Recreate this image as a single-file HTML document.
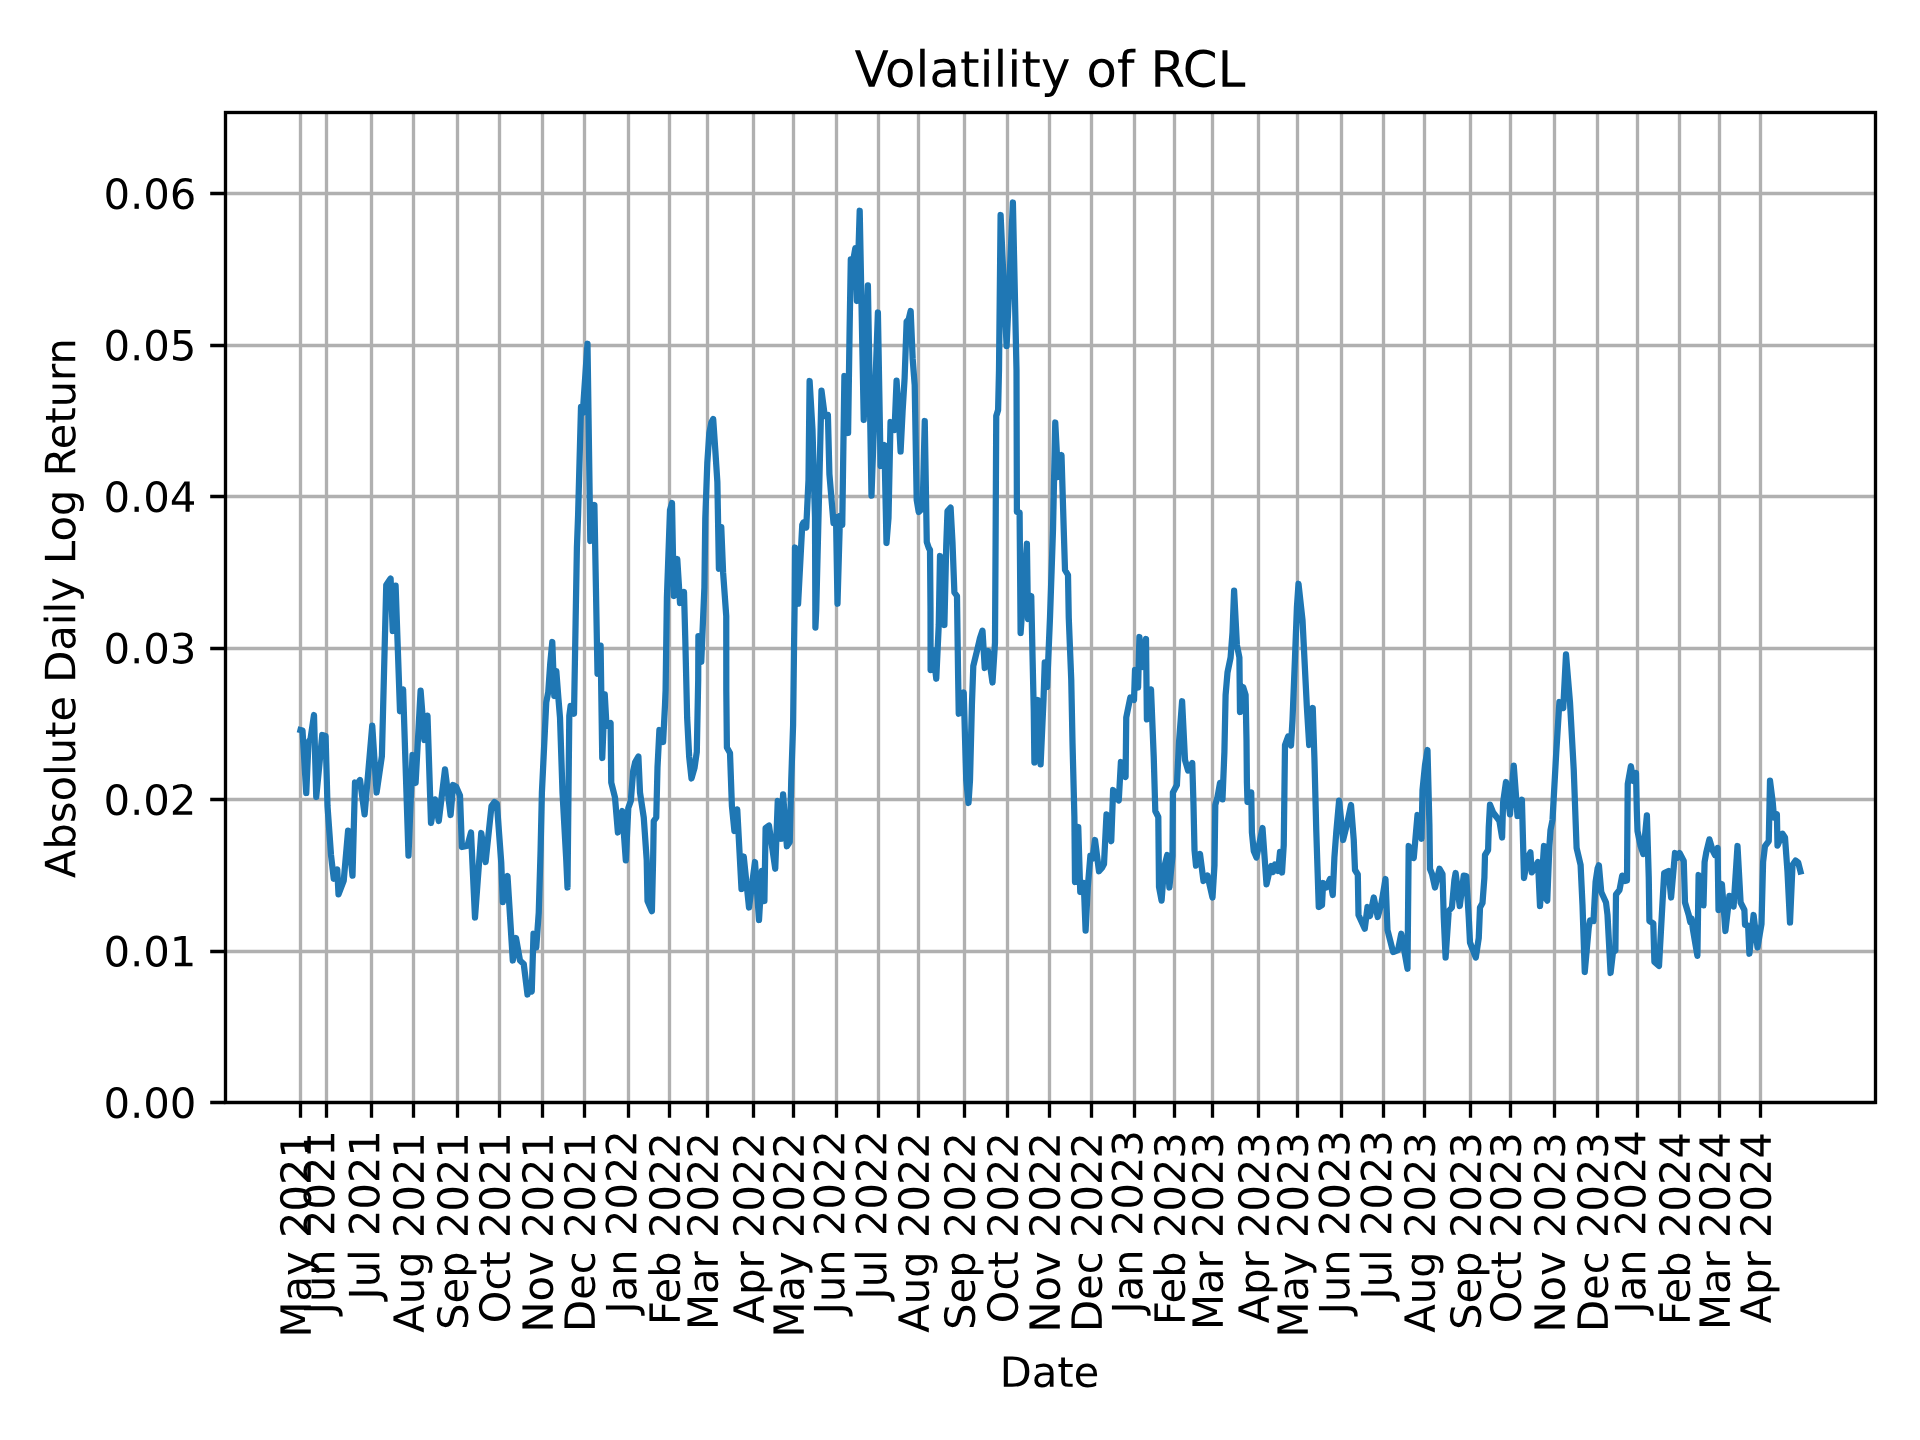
<!DOCTYPE html>
<html><head><meta charset="utf-8"><title>Volatility of RCL</title>
<style>html,body{margin:0;padding:0;background:#fff;font-family:"Liberation Sans",sans-serif}svg{display:block}</style></head><body>
<svg width="1920" height="1440" viewBox="0 0 1920 1440">
<rect x="0" y="0" width="1920" height="1440" fill="#ffffff"/>
<g stroke="#b0b0b0" stroke-width="3.33" fill="none" stroke-linecap="butt">
<path d="M300.5 112.5V1102.5M326.5 112.5V1102.5M371.5 112.5V1102.5M413.5 112.5V1102.5M457.5 112.5V1102.5M499.5 112.5V1102.5M542.5 112.5V1102.5M584.5 112.5V1102.5M628.5 112.5V1102.5M669.5 112.5V1102.5M707.5 112.5V1102.5M753.5 112.5V1102.5M793.5 112.5V1102.5M836.5 112.5V1102.5M878.5 112.5V1102.5M918.5 112.5V1102.5M964.5 112.5V1102.5M1007.5 112.5V1102.5M1049.5 112.5V1102.5M1091.5 112.5V1102.5M1134.5 112.5V1102.5M1174.5 112.5V1102.5M1212.5 112.5V1102.5M1258.5 112.5V1102.5M1297.5 112.5V1102.5M1341.5 112.5V1102.5M1383.5 112.5V1102.5M1424.5 112.5V1102.5M1470.5 112.5V1102.5M1510.5 112.5V1102.5M1554.5 112.5V1102.5M1597.5 112.5V1102.5M1637.5 112.5V1102.5M1679.5 112.5V1102.5M1719.5 112.5V1102.5M1760.5 112.5V1102.5M225.5 1102.5H1875.5M225.5 951.5H1875.5M225.5 799.5H1875.5M225.5 648.5H1875.5M225.5 496.5H1875.5M225.5 345.5H1875.5M225.5 193.5H1875.5"/>
</g>
<clipPath id="c"><rect x="225.5" y="112.5" width="1650" height="990"/></clipPath>
<path clip-path="url(#c)" d="M300.5 730 L302.5 730.5 L306.25 793 L308.5 742 L310.5 739 L314 715 L316.25 797 L322.25 735 L325.6 736 L327.5 806 L331 855 L333.75 878.75 L337.25 869.4 L338.5 894.4 L343.75 880.6 L348.1 830.6 L352.5 875.6 L355 782.5 L357.5 784 L360 780 L364.6 814.4 L372.25 725.6 L376.6 792.5 L381.9 756 L386.25 585 L390.6 578.5 L392.75 631 L395.6 585.6 L400 711.25 L403.1 689.4 L408.5 855.6 L412.5 755 L415.6 783 L420.6 690.6 L424.4 740 L427.5 715.6 L431 823 L435 799.4 L438.75 821 L445 769.4 L450.6 815 L453.1 785 L456.25 787 L460 795.6 L461.9 847 L467.5 845.6 L471 832.5 L475 917.5 L481.25 833 L485.6 862 L491.5 806 L494.4 802 L496.9 804 L501.25 862.5 L502.8 902.2 L507.5 876 L512.8 960.5 L516 938 L520 960.5 L523.75 964 L527.5 994.5 L529.5 986 L531.75 991.5 L533.5 933.75 L536.25 947.5 L538.75 912.5 L540.6 850 L541.9 792.5 L546.25 702.5 L548.26 692 L550.27 663 L552.28 642 L554.29 696 L556.3 671 L558.3 697 L560 717.5 L562.5 792.5 L566.25 860 L567.5 887.5 L569.3 716 L570.6 706 L574 713.75 L575.6 622.5 L576.9 547.5 L578.1 515 L581 407 L582.75 413 L587.5 343.75 L590.3 541 L594.4 505 L597.5 673.75 L600.6 645.6 L602.25 758 L604.75 694.4 L606.5 726 L610.6 723 L611.25 782.5 L615 797.5 L617.9 832.5 L622.25 811 L625.8 860.4 L628.3 808 L630.8 801 L633.2 771 L635.2 762 L638.4 756.5 L640 792.5 L643.75 817.5 L646.7 860 L647.5 901 L651.9 911.25 L653.1 860 L653.75 821 L656.25 817.5 L657.5 767.5 L659.4 730 L660.6 730.6 L663.1 742 L665 705 L665.6 690 L666.9 597.5 L670 510 L672 503 L673.75 596 L677.25 559 L680 603 L684 592 L685.3 640 L687.17 718 L689.19 757 L691.5 778.5 L694.5 768 L696.8 752 L698.2 680 L698.4 636 L701.25 662 L704.4 587.5 L705.3 518 L707.3 463 L709.32 433 L711.33 422.5 L713.2 419.1 L715.36 451 L717.37 482 L718.9 568.75 L721.25 527 L723.1 572.5 L726.25 616 L726.3 690 L726.9 747.5 L730 753 L731.9 806 L734.4 831 L737.25 809.4 L741.5 889 L743.75 856.5 L749 907.5 L755 862 L759 920 L761.9 871 L764.4 901 L765.6 828 L769 825.6 L775.25 868.75 L777.75 801 L781.25 838.75 L783.1 794.4 L786.9 846.25 L789.75 842 L791.25 780 L793.1 725 L794 650 L794.6 606 L795 547.5 L798.1 603.75 L802.25 525 L803.5 522.5 L806.25 527.5 L808.5 480 L809.6 381 L812.5 430 L815 517.5 L815.4 627.5 L816.25 610 L819.4 480 L821.5 390.6 L824.75 416 L827.9 415 L829.4 474 L833.5 523 L836 517 L837.5 603.75 L840 516 L842.25 525 L844.4 376 L848.1 433 L849.6 330 L850.8 259.5 L852.6 264 L855.3 248.25 L856.9 301 L859.7 210.75 L863.75 420 L867.9 285.3 L871.5 495.6 L877.9 312.5 L880.6 466 L884.4 445 L886.49 543 L888.5 518 L890.52 422 L892.54 428 L894.55 430 L896.57 380.6 L898.58 412 L900.59 451.5 L902.61 411 L904.62 378 L906.64 321.4 L908.65 319.5 L910.66 311 L912.68 359 L914.69 385 L916.7 500 L918.7 512 L920.7 510 L922.7 506 L924.75 421 L926.77 542 L928.78 548 L930 550 L930.5 610 L930.6 670 L933.1 650 L936.25 678.75 L938.75 625 L940 556 L944.4 625 L946.25 545 L947.5 511 L950.6 507.5 L952.5 542.5 L954.4 592.5 L957 596 L958.1 675 L958.75 713.75 L963.75 692.5 L965 737.5 L966.25 780 L968.5 803 L970 780 L971.9 705 L973.3 666 L977.5 648.75 L980 638 L982.5 630.6 L984.75 668 L988.1 651 L992.5 682.5 L995 642.5 L995.6 540 L996.25 416 L998.1 410 L999 370 L1000.6 215 L1006.6 346 L1012.9 202.5 L1016.5 370 L1016.9 512 L1019.6 512.5 L1020.6 633 L1026.9 543.75 L1028 619 L1031.25 596 L1032.5 655 L1033.75 710 L1034.4 762.5 L1037.75 700 L1040.6 764.4 L1043.5 700 L1044.75 662.5 L1047.1 687 L1050 617.5 L1053 530 L1055.25 422.5 L1058.1 477 L1061.5 455 L1063.75 530 L1065 570 L1068 575 L1068.75 617.5 L1071.25 680 L1072.5 742.5 L1074.4 817.5 L1075 882 L1078.25 827 L1080.25 892 L1083.75 883 L1085.6 930.6 L1087.75 887.5 L1090.4 855.6 L1092.5 858.75 L1095 840 L1099 871.25 L1101.9 868 L1104 864 L1106.5 814.4 L1111.25 841.25 L1113.1 790 L1118.75 800.6 L1120.9 762 L1125.6 777 L1126.25 717.5 L1130.3 697.5 L1134 700 L1135 670 L1138.1 687.5 L1139.4 637 L1142.75 667 L1146 639 L1146.9 719.4 L1151 689.4 L1153.75 757.5 L1155.3 811 L1158.3 817 L1159 887 L1161.6 900.6 L1164 868 L1167.25 855 L1169.4 887.5 L1172.5 856 L1172.9 792.5 L1176.9 785 L1179 742.5 L1182.1 701.25 L1185 760 L1188.1 770.6 L1192.25 763 L1193.5 805 L1194.5 850 L1196 865.6 L1200 854 L1203.5 881 L1207.5 875.6 L1212.5 897.5 L1214.5 865 L1215.3 805 L1217.5 797 L1220 783 L1222.5 799.4 L1224.4 752 L1225.6 695 L1227.5 672.5 L1230.6 657.5 L1232.5 632.5 L1234.1 590.6 L1236.9 645 L1239.4 657.5 L1240 712 L1243.1 687 L1245.6 695 L1246.5 740 L1246.9 782.5 L1247.5 802 L1251.25 792.5 L1251.9 832.5 L1253.75 851 L1256.5 857.5 L1262.5 828 L1266.5 884.4 L1270 868.75 L1271.25 866 L1273 872 L1275 864.4 L1278.1 871 L1280 852 L1282 872.5 L1283.75 845 L1285 745 L1288.1 736.5 L1291 745.5 L1292.5 720 L1295 657.5 L1296.9 607.5 L1298.5 583.75 L1302.5 620 L1305 670 L1306.9 707.5 L1309.2 745 L1312.75 708 L1314.4 757.5 L1316.25 830 L1318.75 907 L1322 905 L1323.1 883 L1326.25 887.5 L1330 879 L1332.75 895 L1334.4 857.5 L1336.25 832.5 L1339.1 800.6 L1343.1 840 L1347.5 822 L1351 805 L1353.75 840 L1355 870 L1357.8 874.5 L1358.5 915 L1364.75 928.75 L1367.5 907 L1370 916 L1373.75 897.5 L1377.75 917 L1381.5 903 L1385.5 879 L1387.5 930 L1389.4 937.5 L1393.1 952 L1398 950 L1401.25 933.75 L1407.5 968.75 L1408.7 846 L1413.75 858 L1417.5 815 L1421.5 838.75 L1422.5 790 L1425 765 L1427.5 750 L1429.4 825 L1430 869 L1432 874 L1435 887.5 L1439.5 868.75 L1442.5 874 L1443.75 917.5 L1445.6 957.5 L1448.75 911 L1451.9 907.5 L1454.4 880 L1455.6 873 L1459.75 906 L1463.75 875.6 L1466.25 876 L1468.75 917.5 L1470 942.5 L1475.8 957.5 L1478.75 938 L1480 907.5 L1482.5 903 L1484.4 877.5 L1485 855 L1488.1 850 L1488.75 827.5 L1490 804.7 L1493.1 812.5 L1496.9 817.5 L1499.4 821 L1502.1 837.5 L1503.1 802.5 L1506 782 L1510 814.4 L1513.75 765.6 L1517.5 816 L1521.9 799.7 L1524 878 L1527.5 858 L1530.4 852.3 L1531.75 872.3 L1535 868 L1538 862 L1540 906 L1544 846 L1545.5 898 L1547.25 900.6 L1549.4 846 L1550.5 830 L1552.5 820 L1556.25 752.5 L1559.4 702 L1563.25 708 L1566 654.4 L1570 702.5 L1573.75 770 L1576.6 848 L1580.6 865 L1582.5 905 L1584.75 972 L1588.75 927.5 L1590 920.5 L1593.5 921 L1595.6 881.7 L1597.6 868.5 L1598.9 865.3 L1601.25 892 L1606 902.5 L1607.5 915 L1610.6 973 L1613 952 L1615.4 950.5 L1616 894.5 L1619.5 890 L1622.2 875.6 L1625 881 L1627 880.5 L1627.6 800 L1627.75 784 L1630.9 766.25 L1633.4 781 L1636 773 L1636.8 810 L1637.5 831 L1640.6 846 L1643.3 854 L1646.9 815.3 L1648.75 877.5 L1649.4 921 L1653.3 923.4 L1654.4 962 L1659 966 L1662.5 902.5 L1664.2 873 L1668.5 871 L1671.1 897.5 L1675 853 L1677.3 858 L1679.6 853 L1683.75 861 L1685 902.5 L1688.75 915 L1690.25 922 L1691.5 918.5 L1693 930 L1697.4 955.8 L1698.6 875 L1703.5 905.3 L1704.6 862 L1706.25 852.5 L1709.4 839.4 L1712.5 850 L1715 855 L1717.6 848 L1718.5 910 L1721.9 884 L1725.4 931 L1729.4 895.8 L1733.6 906.5 L1737.5 846 L1740.6 902.5 L1744.4 910 L1745 925 L1748.1 925.6 L1749.4 953.75 L1753.6 915 L1757.5 947.5 L1761.5 924 L1763.1 862 L1765 846 L1768.75 841 L1770 780.6 L1772.75 802.5 L1774 817.5 L1776.9 814.4 L1777.5 845.6 L1782.5 833.75 L1785 837.5 L1787.5 872 L1790 922.5 L1792.5 865 L1795.6 860.6 L1798.2 862.5 L1800.5 871.5" fill="none" stroke="#1f77b4" stroke-width="6.25" stroke-linejoin="round" stroke-linecap="square"/>
<path d="M300.5 1102.5v15.3M326.5 1102.5v15.3M371.5 1102.5v15.3M413.5 1102.5v15.3M457.5 1102.5v15.3M499.5 1102.5v15.3M542.5 1102.5v15.3M584.5 1102.5v15.3M628.5 1102.5v15.3M669.5 1102.5v15.3M707.5 1102.5v15.3M753.5 1102.5v15.3M793.5 1102.5v15.3M836.5 1102.5v15.3M878.5 1102.5v15.3M918.5 1102.5v15.3M964.5 1102.5v15.3M1007.5 1102.5v15.3M1049.5 1102.5v15.3M1091.5 1102.5v15.3M1134.5 1102.5v15.3M1174.5 1102.5v15.3M1212.5 1102.5v15.3M1258.5 1102.5v15.3M1297.5 1102.5v15.3M1341.5 1102.5v15.3M1383.5 1102.5v15.3M1424.5 1102.5v15.3M1470.5 1102.5v15.3M1510.5 1102.5v15.3M1554.5 1102.5v15.3M1597.5 1102.5v15.3M1637.5 1102.5v15.3M1679.5 1102.5v15.3M1719.5 1102.5v15.3M1760.5 1102.5v15.3M225.5 1102.5h-15.3M225.5 951.5h-15.3M225.5 799.5h-15.3M225.5 648.5h-15.3M225.5 496.5h-15.3M225.5 345.5h-15.3M225.5 193.5h-15.3" stroke="#000" stroke-width="3.33" fill="none"/>
<rect x="225.5" y="112.5" width="1650" height="990" fill="none" stroke="#000" stroke-width="3.33" stroke-linejoin="miter"/>
<g transform="scale(4.166667)" fill="#000">
<g transform="translate(-0.2880 -0.0720)"><g id="text_1">
      <g transform="translate(74.879375 321.071125) rotate(-90) scale(0.1 -0.1)">
       <defs>
        <path id="DejaVuSans-4d" d="M 628 4666 
L 1569 4666 
L 2759 1491 
L 3956 4666 
L 4897 4666 
L 4897 0 
L 4281 0 
L 4281 4097 
L 3078 897 
L 2444 897 
L 1241 4097 
L 1241 0 
L 628 0 
L 628 4666 
z
" transform="scale(0.015625)"/>
        <path id="DejaVuSans-61" d="M 2194 1759 
Q 1497 1759 1228 1600 
Q 959 1441 959 1056 
Q 959 750 1161 570 
Q 1363 391 1709 391 
Q 2188 391 2477 730 
Q 2766 1069 2766 1631 
L 2766 1759 
L 2194 1759 
z
M 3341 1997 
L 3341 0 
L 2766 0 
L 2766 531 
Q 2569 213 2275 61 
Q 1981 -91 1556 -91 
Q 1019 -91 701 211 
Q 384 513 384 1019 
Q 384 1609 779 1909 
Q 1175 2209 1959 2209 
L 2766 2209 
L 2766 2266 
Q 2766 2663 2505 2880 
Q 2244 3097 1772 3097 
Q 1472 3097 1187 3025 
Q 903 2953 641 2809 
L 641 3341 
Q 956 3463 1253 3523 
Q 1550 3584 1831 3584 
Q 2591 3584 2966 3190 
Q 3341 2797 3341 1997 
z
" transform="scale(0.015625)"/>
        <path id="DejaVuSans-79" d="M 2059 -325 
Q 1816 -950 1584 -1140 
Q 1353 -1331 966 -1331 
L 506 -1331 
L 506 -850 
L 844 -850 
Q 1081 -850 1212 -737 
Q 1344 -625 1503 -206 
L 1606 56 
L 191 3500 
L 800 3500 
L 1894 763 
L 2988 3500 
L 3597 3500 
L 2059 -325 
z
" transform="scale(0.015625)"/>
        <path id="DejaVuSans-20" transform="scale(0.015625)"/>
        <path id="DejaVuSans-32" d="M 1228 531 
L 3431 531 
L 3431 0 
L 469 0 
L 469 531 
Q 828 903 1448 1529 
Q 2069 2156 2228 2338 
Q 2531 2678 2651 2914 
Q 2772 3150 2772 3378 
Q 2772 3750 2511 3984 
Q 2250 4219 1831 4219 
Q 1534 4219 1204 4116 
Q 875 4013 500 3803 
L 500 4441 
Q 881 4594 1212 4672 
Q 1544 4750 1819 4750 
Q 2544 4750 2975 4387 
Q 3406 4025 3406 3419 
Q 3406 3131 3298 2873 
Q 3191 2616 2906 2266 
Q 2828 2175 2409 1742 
Q 1991 1309 1228 531 
z
" transform="scale(0.015625)"/>
        <path id="DejaVuSans-30" d="M 2034 4250 
Q 1547 4250 1301 3770 
Q 1056 3291 1056 2328 
Q 1056 1369 1301 889 
Q 1547 409 2034 409 
Q 2525 409 2770 889 
Q 3016 1369 3016 2328 
Q 3016 3291 2770 3770 
Q 2525 4250 2034 4250 
z
M 2034 4750 
Q 2819 4750 3233 4129 
Q 3647 3509 3647 2328 
Q 3647 1150 3233 529 
Q 2819 -91 2034 -91 
Q 1250 -91 836 529 
Q 422 1150 422 2328 
Q 422 3509 836 4129 
Q 1250 4750 2034 4750 
z
" transform="scale(0.015625)"/>
        <path id="DejaVuSans-31" d="M 794 531 
L 1825 531 
L 1825 4091 
L 703 3866 
L 703 4441 
L 1819 4666 
L 2450 4666 
L 2450 531 
L 3481 531 
L 3481 0 
L 794 0 
L 794 531 
z
" transform="scale(0.015625)"/>
       </defs>
       <use href="#DejaVuSans-4d"/>
       <use href="#DejaVuSans-61" transform="translate(86.279297 0)"/>
       <use href="#DejaVuSans-79" transform="translate(147.558594 0)"/>
       <use href="#DejaVuSans-20" transform="translate(206.738281 0)"/>
       <use href="#DejaVuSans-32" transform="translate(238.525391 0)"/>
       <use href="#DejaVuSans-30" transform="translate(302.148438 0)"/>
       <use href="#DejaVuSans-32" transform="translate(365.771484 0)"/>
       <use href="#DejaVuSans-31" transform="translate(429.394531 0)"/>
      </g>
     </g></g>
<g transform="translate(-0.8880 -0.5520)"><g id="text_2">
      <g transform="translate(81.119375 316.021125) rotate(-90) scale(0.1 -0.1)">
       <defs>
        <path id="DejaVuSans-4a" d="M 628 4666 
L 1259 4666 
L 1259 325 
Q 1259 -519 939 -900 
Q 619 -1281 -91 -1281 
L -331 -1281 
L -331 -750 
L -134 -750 
Q 284 -750 456 -515 
Q 628 -281 628 325 
L 628 4666 
z
" transform="scale(0.015625)"/>
        <path id="DejaVuSans-75" d="M 544 1381 
L 544 3500 
L 1119 3500 
L 1119 1403 
Q 1119 906 1312 657 
Q 1506 409 1894 409 
Q 2359 409 2629 706 
Q 2900 1003 2900 1516 
L 2900 3500 
L 3475 3500 
L 3475 0 
L 2900 0 
L 2900 538 
Q 2691 219 2414 64 
Q 2138 -91 1772 -91 
Q 1169 -91 856 284 
Q 544 659 544 1381 
z
M 1991 3584 
L 1991 3584 
z
" transform="scale(0.015625)"/>
        <path id="DejaVuSans-6e" d="M 3513 2113 
L 3513 0 
L 2938 0 
L 2938 2094 
Q 2938 2591 2744 2837 
Q 2550 3084 2163 3084 
Q 1697 3084 1428 2787 
Q 1159 2491 1159 1978 
L 1159 0 
L 581 0 
L 581 3500 
L 1159 3500 
L 1159 2956 
Q 1366 3272 1645 3428 
Q 1925 3584 2291 3584 
Q 2894 3584 3203 3211 
Q 3513 2838 3513 2113 
z
" transform="scale(0.015625)"/>
       </defs>
       <use href="#DejaVuSans-4a"/>
       <use href="#DejaVuSans-75" transform="translate(29.492188 0)"/>
       <use href="#DejaVuSans-6e" transform="translate(92.871094 0)"/>
       <use href="#DejaVuSans-20" transform="translate(156.25 0)"/>
       <use href="#DejaVuSans-32" transform="translate(188.037109 0)"/>
       <use href="#DejaVuSans-30" transform="translate(251.660156 0)"/>
       <use href="#DejaVuSans-32" transform="translate(315.283203 0)"/>
       <use href="#DejaVuSans-31" transform="translate(378.90625 0)"/>
      </g>
     </g></g>
<g transform="translate(-0.8880 -0.5520)"><g id="text_3">
      <g transform="translate(91.919375 312.46175) rotate(-90) scale(0.1 -0.1)">
       <defs>
        <path id="DejaVuSans-6c" d="M 603 4863 
L 1178 4863 
L 1178 0 
L 603 0 
L 603 4863 
z
" transform="scale(0.015625)"/>
       </defs>
       <use href="#DejaVuSans-4a"/>
       <use href="#DejaVuSans-75" transform="translate(29.492188 0)"/>
       <use href="#DejaVuSans-6c" transform="translate(92.871094 0)"/>
       <use href="#DejaVuSans-20" transform="translate(120.654297 0)"/>
       <use href="#DejaVuSans-32" transform="translate(152.441406 0)"/>
       <use href="#DejaVuSans-30" transform="translate(216.064453 0)"/>
       <use href="#DejaVuSans-32" transform="translate(279.6875 0)"/>
       <use href="#DejaVuSans-31" transform="translate(343.310547 0)"/>
      </g>
     </g></g>
<g transform="translate(-0.2880 -0.0720)"><g id="text_4">
      <g transform="translate(101.999375 319.922687) rotate(-90) scale(0.1 -0.1)">
       <defs>
        <path id="DejaVuSans-41" d="M 2188 4044 
L 1331 1722 
L 3047 1722 
L 2188 4044 
z
M 1831 4666 
L 2547 4666 
L 4325 0 
L 3669 0 
L 3244 1197 
L 1141 1197 
L 716 0 
L 50 0 
L 1831 4666 
z
" transform="scale(0.015625)"/>
        <path id="DejaVuSans-67" d="M 2906 1791 
Q 2906 2416 2648 2759 
Q 2391 3103 1925 3103 
Q 1463 3103 1205 2759 
Q 947 2416 947 1791 
Q 947 1169 1205 825 
Q 1463 481 1925 481 
Q 2391 481 2648 825 
Q 2906 1169 2906 1791 
z
M 3481 434 
Q 3481 -459 3084 -895 
Q 2688 -1331 1869 -1331 
Q 1566 -1331 1297 -1286 
Q 1028 -1241 775 -1147 
L 775 -588 
Q 1028 -725 1275 -790 
Q 1522 -856 1778 -856 
Q 2344 -856 2625 -561 
Q 2906 -266 2906 331 
L 2906 616 
Q 2728 306 2450 153 
Q 2172 0 1784 0 
Q 1141 0 747 490 
Q 353 981 353 1791 
Q 353 2603 747 3093 
Q 1141 3584 1784 3584 
Q 2172 3584 2450 3431 
Q 2728 3278 2906 2969 
L 2906 3500 
L 3481 3500 
L 3481 434 
z
" transform="scale(0.015625)"/>
       </defs>
       <use href="#DejaVuSans-41"/>
       <use href="#DejaVuSans-75" transform="translate(68.408203 0)"/>
       <use href="#DejaVuSans-67" transform="translate(131.787109 0)"/>
       <use href="#DejaVuSans-20" transform="translate(195.263672 0)"/>
       <use href="#DejaVuSans-32" transform="translate(227.050781 0)"/>
       <use href="#DejaVuSans-30" transform="translate(290.673828 0)"/>
       <use href="#DejaVuSans-32" transform="translate(354.296875 0)"/>
       <use href="#DejaVuSans-31" transform="translate(417.919922 0)"/>
      </g>
     </g></g>
<g transform="translate(-0.2880 -0.0720)"><g id="text_5">
      <g transform="translate(112.559375 319.246125) rotate(-90) scale(0.1 -0.1)">
       <defs>
        <path id="DejaVuSans-53" d="M 3425 4513 
L 3425 3897 
Q 3066 4069 2747 4153 
Q 2428 4238 2131 4238 
Q 1616 4238 1336 4038 
Q 1056 3838 1056 3469 
Q 1056 3159 1242 3001 
Q 1428 2844 1947 2747 
L 2328 2669 
Q 3034 2534 3370 2195 
Q 3706 1856 3706 1288 
Q 3706 609 3251 259 
Q 2797 -91 1919 -91 
Q 1588 -91 1214 -16 
Q 841 59 441 206 
L 441 856 
Q 825 641 1194 531 
Q 1563 422 1919 422 
Q 2459 422 2753 634 
Q 3047 847 3047 1241 
Q 3047 1584 2836 1778 
Q 2625 1972 2144 2069 
L 1759 2144 
Q 1053 2284 737 2584 
Q 422 2884 422 3419 
Q 422 4038 858 4394 
Q 1294 4750 2059 4750 
Q 2388 4750 2728 4690 
Q 3069 4631 3425 4513 
z
" transform="scale(0.015625)"/>
        <path id="DejaVuSans-65" d="M 3597 1894 
L 3597 1613 
L 953 1613 
Q 991 1019 1311 708 
Q 1631 397 2203 397 
Q 2534 397 2845 478 
Q 3156 559 3463 722 
L 3463 178 
Q 3153 47 2828 -22 
Q 2503 -91 2169 -91 
Q 1331 -91 842 396 
Q 353 884 353 1716 
Q 353 2575 817 3079 
Q 1281 3584 2069 3584 
Q 2775 3584 3186 3129 
Q 3597 2675 3597 1894 
z
M 3022 2063 
Q 3016 2534 2758 2815 
Q 2500 3097 2075 3097 
Q 1594 3097 1305 2825 
Q 1016 2553 972 2059 
L 3022 2063 
z
" transform="scale(0.015625)"/>
        <path id="DejaVuSans-70" d="M 1159 525 
L 1159 -1331 
L 581 -1331 
L 581 3500 
L 1159 3500 
L 1159 2969 
Q 1341 3281 1617 3432 
Q 1894 3584 2278 3584 
Q 2916 3584 3314 3078 
Q 3713 2572 3713 1747 
Q 3713 922 3314 415 
Q 2916 -91 2278 -91 
Q 1894 -91 1617 61 
Q 1341 213 1159 525 
z
M 3116 1747 
Q 3116 2381 2855 2742 
Q 2594 3103 2138 3103 
Q 1681 3103 1420 2742 
Q 1159 2381 1159 1747 
Q 1159 1113 1420 752 
Q 1681 391 2138 391 
Q 2594 391 2855 752 
Q 3116 1113 3116 1747 
z
" transform="scale(0.015625)"/>
       </defs>
       <use href="#DejaVuSans-53"/>
       <use href="#DejaVuSans-65" transform="translate(63.476562 0)"/>
       <use href="#DejaVuSans-70" transform="translate(125 0)"/>
       <use href="#DejaVuSans-20" transform="translate(188.476562 0)"/>
       <use href="#DejaVuSans-32" transform="translate(220.263672 0)"/>
       <use href="#DejaVuSans-30" transform="translate(283.886719 0)"/>
       <use href="#DejaVuSans-32" transform="translate(347.509766 0)"/>
       <use href="#DejaVuSans-31" transform="translate(411.132812 0)"/>
      </g>
     </g></g>
<g transform="translate(-0.2880 -0.0720)"><g id="text_6">
      <g transform="translate(122.639375 317.68675) rotate(-90) scale(0.1 -0.1)">
       <defs>
        <path id="DejaVuSans-4f" d="M 2522 4238 
Q 1834 4238 1429 3725 
Q 1025 3213 1025 2328 
Q 1025 1447 1429 934 
Q 1834 422 2522 422 
Q 3209 422 3611 934 
Q 4013 1447 4013 2328 
Q 4013 3213 3611 3725 
Q 3209 4238 2522 4238 
z
M 2522 4750 
Q 3503 4750 4090 4092 
Q 4678 3434 4678 2328 
Q 4678 1225 4090 567 
Q 3503 -91 2522 -91 
Q 1538 -91 948 565 
Q 359 1222 359 2328 
Q 359 3434 948 4092 
Q 1538 4750 2522 4750 
z
" transform="scale(0.015625)"/>
        <path id="DejaVuSans-63" d="M 3122 3366 
L 3122 2828 
Q 2878 2963 2633 3030 
Q 2388 3097 2138 3097 
Q 1578 3097 1268 2742 
Q 959 2388 959 1747 
Q 959 1106 1268 751 
Q 1578 397 2138 397 
Q 2388 397 2633 464 
Q 2878 531 3122 666 
L 3122 134 
Q 2881 22 2623 -34 
Q 2366 -91 2075 -91 
Q 1284 -91 818 406 
Q 353 903 353 1747 
Q 353 2603 823 3093 
Q 1294 3584 2113 3584 
Q 2378 3584 2631 3529 
Q 2884 3475 3122 3366 
z
" transform="scale(0.015625)"/>
        <path id="DejaVuSans-74" d="M 1172 4494 
L 1172 3500 
L 2356 3500 
L 2356 3053 
L 1172 3053 
L 1172 1153 
Q 1172 725 1289 603 
Q 1406 481 1766 481 
L 2356 481 
L 2356 0 
L 1766 0 
Q 1100 0 847 248 
Q 594 497 594 1153 
L 594 3053 
L 172 3053 
L 172 3500 
L 594 3500 
L 594 4494 
L 1172 4494 
z
" transform="scale(0.015625)"/>
       </defs>
       <use href="#DejaVuSans-4f"/>
       <use href="#DejaVuSans-63" transform="translate(78.710938 0)"/>
       <use href="#DejaVuSans-74" transform="translate(133.691406 0)"/>
       <use href="#DejaVuSans-20" transform="translate(172.900391 0)"/>
       <use href="#DejaVuSans-32" transform="translate(204.6875 0)"/>
       <use href="#DejaVuSans-30" transform="translate(268.310547 0)"/>
       <use href="#DejaVuSans-32" transform="translate(331.933594 0)"/>
       <use href="#DejaVuSans-31" transform="translate(395.556641 0)"/>
      </g>
     </g></g>
<g transform="translate(-0.2880 -0.0720)"><g id="text_7">
      <g transform="translate(132.959375 319.914875) rotate(-90) scale(0.1 -0.1)">
       <defs>
        <path id="DejaVuSans-4e" d="M 628 4666 
L 1478 4666 
L 3547 763 
L 3547 4666 
L 4159 4666 
L 4159 0 
L 3309 0 
L 1241 3903 
L 1241 0 
L 628 0 
L 628 4666 
z
" transform="scale(0.015625)"/>
        <path id="DejaVuSans-6f" d="M 1959 3097 
Q 1497 3097 1228 2736 
Q 959 2375 959 1747 
Q 959 1119 1226 758 
Q 1494 397 1959 397 
Q 2419 397 2687 759 
Q 2956 1122 2956 1747 
Q 2956 2369 2687 2733 
Q 2419 3097 1959 3097 
z
M 1959 3584 
Q 2709 3584 3137 3096 
Q 3566 2609 3566 1747 
Q 3566 888 3137 398 
Q 2709 -91 1959 -91 
Q 1206 -91 779 398 
Q 353 888 353 1747 
Q 353 2609 779 3096 
Q 1206 3584 1959 3584 
z
" transform="scale(0.015625)"/>
        <path id="DejaVuSans-76" d="M 191 3500 
L 800 3500 
L 1894 563 
L 2988 3500 
L 3597 3500 
L 2284 0 
L 1503 0 
L 191 3500 
z
" transform="scale(0.015625)"/>
       </defs>
       <use href="#DejaVuSans-4e"/>
       <use href="#DejaVuSans-6f" transform="translate(74.804688 0)"/>
       <use href="#DejaVuSans-76" transform="translate(135.986328 0)"/>
       <use href="#DejaVuSans-20" transform="translate(195.166016 0)"/>
       <use href="#DejaVuSans-32" transform="translate(226.953125 0)"/>
       <use href="#DejaVuSans-30" transform="translate(290.576172 0)"/>
       <use href="#DejaVuSans-32" transform="translate(354.199219 0)"/>
       <use href="#DejaVuSans-31" transform="translate(417.822266 0)"/>
      </g>
     </g></g>
<g transform="translate(-0.2880 -0.0720)"><g id="text_8">
      <g transform="translate(143.039375 319.747687) rotate(-90) scale(0.1 -0.1)">
       <defs>
        <path id="DejaVuSans-44" d="M 1259 4147 
L 1259 519 
L 2022 519 
Q 2988 519 3436 956 
Q 3884 1394 3884 2338 
Q 3884 3275 3436 3711 
Q 2988 4147 2022 4147 
L 1259 4147 
z
M 628 4666 
L 1925 4666 
Q 3281 4666 3915 4102 
Q 4550 3538 4550 2338 
Q 4550 1131 3912 565 
Q 3275 0 1925 0 
L 628 0 
L 628 4666 
z
" transform="scale(0.015625)"/>
       </defs>
       <use href="#DejaVuSans-44"/>
       <use href="#DejaVuSans-65" transform="translate(77.001953 0)"/>
       <use href="#DejaVuSans-63" transform="translate(138.525391 0)"/>
       <use href="#DejaVuSans-20" transform="translate(193.505859 0)"/>
       <use href="#DejaVuSans-32" transform="translate(225.292969 0)"/>
       <use href="#DejaVuSans-30" transform="translate(288.916016 0)"/>
       <use href="#DejaVuSans-32" transform="translate(352.539062 0)"/>
       <use href="#DejaVuSans-31" transform="translate(416.162109 0)"/>
      </g>
     </g></g>
<g transform="translate(-0.8880 -0.5520)"><g id="text_9">
      <g transform="translate(153.599375 315.81175) rotate(-90) scale(0.1 -0.1)">
       <use href="#DejaVuSans-4a"/>
       <use href="#DejaVuSans-61" transform="translate(29.492188 0)"/>
       <use href="#DejaVuSans-6e" transform="translate(90.771484 0)"/>
       <use href="#DejaVuSans-20" transform="translate(154.150391 0)"/>
       <use href="#DejaVuSans-32" transform="translate(185.9375 0)"/>
       <use href="#DejaVuSans-30" transform="translate(249.560547 0)"/>
       <use href="#DejaVuSans-32" transform="translate(313.183594 0)"/>
       <use href="#DejaVuSans-32" transform="translate(376.806641 0)"/>
      </g>
     </g></g>
<g transform="translate(-0.2880 -0.0720)"><g id="text_10">
      <g transform="translate(163.439375 318.09925) rotate(-90) scale(0.1 -0.1)">
       <defs>
        <path id="DejaVuSans-46" d="M 628 4666 
L 3309 4666 
L 3309 4134 
L 1259 4134 
L 1259 2759 
L 3109 2759 
L 3109 2228 
L 1259 2228 
L 1259 0 
L 628 0 
L 628 4666 
z
" transform="scale(0.015625)"/>
        <path id="DejaVuSans-62" d="M 3116 1747 
Q 3116 2381 2855 2742 
Q 2594 3103 2138 3103 
Q 1681 3103 1420 2742 
Q 1159 2381 1159 1747 
Q 1159 1113 1420 752 
Q 1681 391 2138 391 
Q 2594 391 2855 752 
Q 3116 1113 3116 1747 
z
M 1159 2969 
Q 1341 3281 1617 3432 
Q 1894 3584 2278 3584 
Q 2916 3584 3314 3078 
Q 3713 2572 3713 1747 
Q 3713 922 3314 415 
Q 2916 -91 2278 -91 
Q 1894 -91 1617 61 
Q 1341 213 1159 525 
L 1159 0 
L 581 0 
L 581 4863 
L 1159 4863 
L 1159 2969 
z
" transform="scale(0.015625)"/>
       </defs>
       <use href="#DejaVuSans-46"/>
       <use href="#DejaVuSans-65" transform="translate(52.019531 0)"/>
       <use href="#DejaVuSans-62" transform="translate(113.542969 0)"/>
       <use href="#DejaVuSans-20" transform="translate(177.019531 0)"/>
       <use href="#DejaVuSans-32" transform="translate(208.806641 0)"/>
       <use href="#DejaVuSans-30" transform="translate(272.429688 0)"/>
       <use href="#DejaVuSans-32" transform="translate(336.052734 0)"/>
       <use href="#DejaVuSans-32" transform="translate(399.675781 0)"/>
      </g>
     </g></g>
<g transform="translate(-0.2880 -0.0720)"><g id="text_11">
      <g transform="translate(172.559375 319.263312) rotate(-90) scale(0.1 -0.1)">
       <defs>
        <path id="DejaVuSans-72" d="M 2631 2963 
Q 2534 3019 2420 3045 
Q 2306 3072 2169 3072 
Q 1681 3072 1420 2755 
Q 1159 2438 1159 1844 
L 1159 0 
L 581 0 
L 581 3500 
L 1159 3500 
L 1159 2956 
Q 1341 3275 1631 3429 
Q 1922 3584 2338 3584 
Q 2397 3584 2469 3576 
Q 2541 3569 2628 3553 
L 2631 2963 
z
" transform="scale(0.015625)"/>
       </defs>
       <use href="#DejaVuSans-4d"/>
       <use href="#DejaVuSans-61" transform="translate(86.279297 0)"/>
       <use href="#DejaVuSans-72" transform="translate(147.558594 0)"/>
       <use href="#DejaVuSans-20" transform="translate(188.671875 0)"/>
       <use href="#DejaVuSans-32" transform="translate(220.458984 0)"/>
       <use href="#DejaVuSans-30" transform="translate(284.082031 0)"/>
       <use href="#DejaVuSans-32" transform="translate(347.705078 0)"/>
       <use href="#DejaVuSans-32" transform="translate(411.328125 0)"/>
      </g>
     </g></g>
<g transform="translate(-0.2880 -0.0720)"><g id="text_12">
      <g transform="translate(183.599375 317.696125) rotate(-90) scale(0.1 -0.1)">
       <use href="#DejaVuSans-41"/>
       <use href="#DejaVuSans-70" transform="translate(68.408203 0)"/>
       <use href="#DejaVuSans-72" transform="translate(131.884766 0)"/>
       <use href="#DejaVuSans-20" transform="translate(172.998047 0)"/>
       <use href="#DejaVuSans-32" transform="translate(204.785156 0)"/>
       <use href="#DejaVuSans-30" transform="translate(268.408203 0)"/>
       <use href="#DejaVuSans-32" transform="translate(332.03125 0)"/>
       <use href="#DejaVuSans-32" transform="translate(395.654297 0)"/>
      </g>
     </g></g>
<g transform="translate(-0.2880 -0.0720)"><g id="text_13">
      <g transform="translate(193.199375 321.071125) rotate(-90) scale(0.1 -0.1)">
       <use href="#DejaVuSans-4d"/>
       <use href="#DejaVuSans-61" transform="translate(86.279297 0)"/>
       <use href="#DejaVuSans-79" transform="translate(147.558594 0)"/>
       <use href="#DejaVuSans-20" transform="translate(206.738281 0)"/>
       <use href="#DejaVuSans-32" transform="translate(238.525391 0)"/>
       <use href="#DejaVuSans-30" transform="translate(302.148438 0)"/>
       <use href="#DejaVuSans-32" transform="translate(365.771484 0)"/>
       <use href="#DejaVuSans-32" transform="translate(429.394531 0)"/>
      </g>
     </g></g>
<g transform="translate(-0.8880 -0.5520)"><g id="text_14">
      <g transform="translate(203.519375 316.021125) rotate(-90) scale(0.1 -0.1)">
       <use href="#DejaVuSans-4a"/>
       <use href="#DejaVuSans-75" transform="translate(29.492188 0)"/>
       <use href="#DejaVuSans-6e" transform="translate(92.871094 0)"/>
       <use href="#DejaVuSans-20" transform="translate(156.25 0)"/>
       <use href="#DejaVuSans-32" transform="translate(188.037109 0)"/>
       <use href="#DejaVuSans-30" transform="translate(251.660156 0)"/>
       <use href="#DejaVuSans-32" transform="translate(315.283203 0)"/>
       <use href="#DejaVuSans-32" transform="translate(378.90625 0)"/>
      </g>
     </g></g>
<g transform="translate(-0.8880 -0.5520)"><g id="text_15">
      <g transform="translate(213.599375 312.46175) rotate(-90) scale(0.1 -0.1)">
       <use href="#DejaVuSans-4a"/>
       <use href="#DejaVuSans-75" transform="translate(29.492188 0)"/>
       <use href="#DejaVuSans-6c" transform="translate(92.871094 0)"/>
       <use href="#DejaVuSans-20" transform="translate(120.654297 0)"/>
       <use href="#DejaVuSans-32" transform="translate(152.441406 0)"/>
       <use href="#DejaVuSans-30" transform="translate(216.064453 0)"/>
       <use href="#DejaVuSans-32" transform="translate(279.6875 0)"/>
       <use href="#DejaVuSans-32" transform="translate(343.310547 0)"/>
      </g>
     </g></g>
<g transform="translate(-0.2880 -0.0720)"><g id="text_16">
      <g transform="translate(223.199375 319.922687) rotate(-90) scale(0.1 -0.1)">
       <use href="#DejaVuSans-41"/>
       <use href="#DejaVuSans-75" transform="translate(68.408203 0)"/>
       <use href="#DejaVuSans-67" transform="translate(131.787109 0)"/>
       <use href="#DejaVuSans-20" transform="translate(195.263672 0)"/>
       <use href="#DejaVuSans-32" transform="translate(227.050781 0)"/>
       <use href="#DejaVuSans-30" transform="translate(290.673828 0)"/>
       <use href="#DejaVuSans-32" transform="translate(354.296875 0)"/>
       <use href="#DejaVuSans-32" transform="translate(417.919922 0)"/>
      </g>
     </g></g>
<g transform="translate(-0.2880 -0.0720)"><g id="text_17">
      <g transform="translate(234.239375 319.246125) rotate(-90) scale(0.1 -0.1)">
       <use href="#DejaVuSans-53"/>
       <use href="#DejaVuSans-65" transform="translate(63.476562 0)"/>
       <use href="#DejaVuSans-70" transform="translate(125 0)"/>
       <use href="#DejaVuSans-20" transform="translate(188.476562 0)"/>
       <use href="#DejaVuSans-32" transform="translate(220.263672 0)"/>
       <use href="#DejaVuSans-30" transform="translate(283.886719 0)"/>
       <use href="#DejaVuSans-32" transform="translate(347.509766 0)"/>
       <use href="#DejaVuSans-32" transform="translate(411.132812 0)"/>
      </g>
     </g></g>
<g transform="translate(-0.2880 -0.0720)"><g id="text_18">
      <g transform="translate(244.559375 317.68675) rotate(-90) scale(0.1 -0.1)">
       <use href="#DejaVuSans-4f"/>
       <use href="#DejaVuSans-63" transform="translate(78.710938 0)"/>
       <use href="#DejaVuSans-74" transform="translate(133.691406 0)"/>
       <use href="#DejaVuSans-20" transform="translate(172.900391 0)"/>
       <use href="#DejaVuSans-32" transform="translate(204.6875 0)"/>
       <use href="#DejaVuSans-30" transform="translate(268.310547 0)"/>
       <use href="#DejaVuSans-32" transform="translate(331.933594 0)"/>
       <use href="#DejaVuSans-32" transform="translate(395.556641 0)"/>
      </g>
     </g></g>
<g transform="translate(-0.2880 -0.0720)"><g id="text_19">
      <g transform="translate(254.639375 319.914875) rotate(-90) scale(0.1 -0.1)">
       <use href="#DejaVuSans-4e"/>
       <use href="#DejaVuSans-6f" transform="translate(74.804688 0)"/>
       <use href="#DejaVuSans-76" transform="translate(135.986328 0)"/>
       <use href="#DejaVuSans-20" transform="translate(195.166016 0)"/>
       <use href="#DejaVuSans-32" transform="translate(226.953125 0)"/>
       <use href="#DejaVuSans-30" transform="translate(290.576172 0)"/>
       <use href="#DejaVuSans-32" transform="translate(354.199219 0)"/>
       <use href="#DejaVuSans-32" transform="translate(417.822266 0)"/>
      </g>
     </g></g>
<g transform="translate(-0.2880 -0.0720)"><g id="text_20">
      <g transform="translate(264.719375 319.747687) rotate(-90) scale(0.1 -0.1)">
       <use href="#DejaVuSans-44"/>
       <use href="#DejaVuSans-65" transform="translate(77.001953 0)"/>
       <use href="#DejaVuSans-63" transform="translate(138.525391 0)"/>
       <use href="#DejaVuSans-20" transform="translate(193.505859 0)"/>
       <use href="#DejaVuSans-32" transform="translate(225.292969 0)"/>
       <use href="#DejaVuSans-30" transform="translate(288.916016 0)"/>
       <use href="#DejaVuSans-32" transform="translate(352.539062 0)"/>
       <use href="#DejaVuSans-32" transform="translate(416.162109 0)"/>
      </g>
     </g></g>
<g transform="translate(-0.8880 -0.5520)"><g id="text_21">
      <g transform="translate(275.039375 315.81175) rotate(-90) scale(0.1 -0.1)">
       <defs>
        <path id="DejaVuSans-33" d="M 2597 2516 
Q 3050 2419 3304 2112 
Q 3559 1806 3559 1356 
Q 3559 666 3084 287 
Q 2609 -91 1734 -91 
Q 1441 -91 1130 -33 
Q 819 25 488 141 
L 488 750 
Q 750 597 1062 519 
Q 1375 441 1716 441 
Q 2309 441 2620 675 
Q 2931 909 2931 1356 
Q 2931 1769 2642 2001 
Q 2353 2234 1838 2234 
L 1294 2234 
L 1294 2753 
L 1863 2753 
Q 2328 2753 2575 2939 
Q 2822 3125 2822 3475 
Q 2822 3834 2567 4026 
Q 2313 4219 1838 4219 
Q 1578 4219 1281 4162 
Q 984 4106 628 3988 
L 628 4550 
Q 988 4650 1302 4700 
Q 1616 4750 1894 4750 
Q 2613 4750 3031 4423 
Q 3450 4097 3450 3541 
Q 3450 3153 3228 2886 
Q 3006 2619 2597 2516 
z
" transform="scale(0.015625)"/>
       </defs>
       <use href="#DejaVuSans-4a"/>
       <use href="#DejaVuSans-61" transform="translate(29.492188 0)"/>
       <use href="#DejaVuSans-6e" transform="translate(90.771484 0)"/>
       <use href="#DejaVuSans-20" transform="translate(154.150391 0)"/>
       <use href="#DejaVuSans-32" transform="translate(185.9375 0)"/>
       <use href="#DejaVuSans-30" transform="translate(249.560547 0)"/>
       <use href="#DejaVuSans-32" transform="translate(313.183594 0)"/>
       <use href="#DejaVuSans-33" transform="translate(376.806641 0)"/>
      </g>
     </g></g>
<g transform="translate(-0.2880 -0.0720)"><g id="text_22">
      <g transform="translate(284.639375 318.09925) rotate(-90) scale(0.1 -0.1)">
       <use href="#DejaVuSans-46"/>
       <use href="#DejaVuSans-65" transform="translate(52.019531 0)"/>
       <use href="#DejaVuSans-62" transform="translate(113.542969 0)"/>
       <use href="#DejaVuSans-20" transform="translate(177.019531 0)"/>
       <use href="#DejaVuSans-32" transform="translate(208.806641 0)"/>
       <use href="#DejaVuSans-30" transform="translate(272.429688 0)"/>
       <use href="#DejaVuSans-32" transform="translate(336.052734 0)"/>
       <use href="#DejaVuSans-33" transform="translate(399.675781 0)"/>
      </g>
     </g></g>
<g transform="translate(-0.2880 -0.0720)"><g id="text_23">
      <g transform="translate(293.759375 319.263312) rotate(-90) scale(0.1 -0.1)">
       <use href="#DejaVuSans-4d"/>
       <use href="#DejaVuSans-61" transform="translate(86.279297 0)"/>
       <use href="#DejaVuSans-72" transform="translate(147.558594 0)"/>
       <use href="#DejaVuSans-20" transform="translate(188.671875 0)"/>
       <use href="#DejaVuSans-32" transform="translate(220.458984 0)"/>
       <use href="#DejaVuSans-30" transform="translate(284.082031 0)"/>
       <use href="#DejaVuSans-32" transform="translate(347.705078 0)"/>
       <use href="#DejaVuSans-33" transform="translate(411.328125 0)"/>
      </g>
     </g></g>
<g transform="translate(-0.2880 -0.0720)"><g id="text_24">
      <g transform="translate(304.799375 317.696125) rotate(-90) scale(0.1 -0.1)">
       <use href="#DejaVuSans-41"/>
       <use href="#DejaVuSans-70" transform="translate(68.408203 0)"/>
       <use href="#DejaVuSans-72" transform="translate(131.884766 0)"/>
       <use href="#DejaVuSans-20" transform="translate(172.998047 0)"/>
       <use href="#DejaVuSans-32" transform="translate(204.785156 0)"/>
       <use href="#DejaVuSans-30" transform="translate(268.408203 0)"/>
       <use href="#DejaVuSans-32" transform="translate(332.03125 0)"/>
       <use href="#DejaVuSans-33" transform="translate(395.654297 0)"/>
      </g>
     </g></g>
<g transform="translate(-0.2880 -0.0720)"><g id="text_25">
      <g transform="translate(314.159375 321.071125) rotate(-90) scale(0.1 -0.1)">
       <use href="#DejaVuSans-4d"/>
       <use href="#DejaVuSans-61" transform="translate(86.279297 0)"/>
       <use href="#DejaVuSans-79" transform="translate(147.558594 0)"/>
       <use href="#DejaVuSans-20" transform="translate(206.738281 0)"/>
       <use href="#DejaVuSans-32" transform="translate(238.525391 0)"/>
       <use href="#DejaVuSans-30" transform="translate(302.148438 0)"/>
       <use href="#DejaVuSans-32" transform="translate(365.771484 0)"/>
       <use href="#DejaVuSans-33" transform="translate(429.394531 0)"/>
      </g>
     </g></g>
<g transform="translate(-0.8880 -0.5520)"><g id="text_26">
      <g transform="translate(324.719375 316.021125) rotate(-90) scale(0.1 -0.1)">
       <use href="#DejaVuSans-4a"/>
       <use href="#DejaVuSans-75" transform="translate(29.492188 0)"/>
       <use href="#DejaVuSans-6e" transform="translate(92.871094 0)"/>
       <use href="#DejaVuSans-20" transform="translate(156.25 0)"/>
       <use href="#DejaVuSans-32" transform="translate(188.037109 0)"/>
       <use href="#DejaVuSans-30" transform="translate(251.660156 0)"/>
       <use href="#DejaVuSans-32" transform="translate(315.283203 0)"/>
       <use href="#DejaVuSans-33" transform="translate(378.90625 0)"/>
      </g>
     </g></g>
<g transform="translate(-0.8880 -0.5520)"><g id="text_27">
      <g transform="translate(334.799375 312.46175) rotate(-90) scale(0.1 -0.1)">
       <use href="#DejaVuSans-4a"/>
       <use href="#DejaVuSans-75" transform="translate(29.492188 0)"/>
       <use href="#DejaVuSans-6c" transform="translate(92.871094 0)"/>
       <use href="#DejaVuSans-20" transform="translate(120.654297 0)"/>
       <use href="#DejaVuSans-32" transform="translate(152.441406 0)"/>
       <use href="#DejaVuSans-30" transform="translate(216.064453 0)"/>
       <use href="#DejaVuSans-32" transform="translate(279.6875 0)"/>
       <use href="#DejaVuSans-33" transform="translate(343.310547 0)"/>
      </g>
     </g></g>
<g transform="translate(-0.2880 -0.0720)"><g id="text_28">
      <g transform="translate(344.639375 319.922687) rotate(-90) scale(0.1 -0.1)">
       <use href="#DejaVuSans-41"/>
       <use href="#DejaVuSans-75" transform="translate(68.408203 0)"/>
       <use href="#DejaVuSans-67" transform="translate(131.787109 0)"/>
       <use href="#DejaVuSans-20" transform="translate(195.263672 0)"/>
       <use href="#DejaVuSans-32" transform="translate(227.050781 0)"/>
       <use href="#DejaVuSans-30" transform="translate(290.673828 0)"/>
       <use href="#DejaVuSans-32" transform="translate(354.296875 0)"/>
       <use href="#DejaVuSans-33" transform="translate(417.919922 0)"/>
      </g>
     </g></g>
<g transform="translate(-0.2880 -0.0720)"><g id="text_29">
      <g transform="translate(355.679375 319.246125) rotate(-90) scale(0.1 -0.1)">
       <use href="#DejaVuSans-53"/>
       <use href="#DejaVuSans-65" transform="translate(63.476562 0)"/>
       <use href="#DejaVuSans-70" transform="translate(125 0)"/>
       <use href="#DejaVuSans-20" transform="translate(188.476562 0)"/>
       <use href="#DejaVuSans-32" transform="translate(220.263672 0)"/>
       <use href="#DejaVuSans-30" transform="translate(283.886719 0)"/>
       <use href="#DejaVuSans-32" transform="translate(347.509766 0)"/>
       <use href="#DejaVuSans-33" transform="translate(411.132812 0)"/>
      </g>
     </g></g>
<g transform="translate(-0.2880 -0.0720)"><g id="text_30">
      <g transform="translate(365.279375 317.68675) rotate(-90) scale(0.1 -0.1)">
       <use href="#DejaVuSans-4f"/>
       <use href="#DejaVuSans-63" transform="translate(78.710938 0)"/>
       <use href="#DejaVuSans-74" transform="translate(133.691406 0)"/>
       <use href="#DejaVuSans-20" transform="translate(172.900391 0)"/>
       <use href="#DejaVuSans-32" transform="translate(204.6875 0)"/>
       <use href="#DejaVuSans-30" transform="translate(268.310547 0)"/>
       <use href="#DejaVuSans-32" transform="translate(331.933594 0)"/>
       <use href="#DejaVuSans-33" transform="translate(395.556641 0)"/>
      </g>
     </g></g>
<g transform="translate(-0.2880 -0.0720)"><g id="text_31">
      <g transform="translate(375.839375 319.914875) rotate(-90) scale(0.1 -0.1)">
       <use href="#DejaVuSans-4e"/>
       <use href="#DejaVuSans-6f" transform="translate(74.804688 0)"/>
       <use href="#DejaVuSans-76" transform="translate(135.986328 0)"/>
       <use href="#DejaVuSans-20" transform="translate(195.166016 0)"/>
       <use href="#DejaVuSans-32" transform="translate(226.953125 0)"/>
       <use href="#DejaVuSans-30" transform="translate(290.576172 0)"/>
       <use href="#DejaVuSans-32" transform="translate(354.199219 0)"/>
       <use href="#DejaVuSans-33" transform="translate(417.822266 0)"/>
      </g>
     </g></g>
<g transform="translate(-0.2880 -0.0720)"><g id="text_32">
      <g transform="translate(386.159375 319.747687) rotate(-90) scale(0.1 -0.1)">
       <use href="#DejaVuSans-44"/>
       <use href="#DejaVuSans-65" transform="translate(77.001953 0)"/>
       <use href="#DejaVuSans-63" transform="translate(138.525391 0)"/>
       <use href="#DejaVuSans-20" transform="translate(193.505859 0)"/>
       <use href="#DejaVuSans-32" transform="translate(225.292969 0)"/>
       <use href="#DejaVuSans-30" transform="translate(288.916016 0)"/>
       <use href="#DejaVuSans-32" transform="translate(352.539062 0)"/>
       <use href="#DejaVuSans-33" transform="translate(416.162109 0)"/>
      </g>
     </g></g>
<g transform="translate(-0.8880 -0.5520)"><g id="text_33">
      <g transform="translate(395.759375 315.81175) rotate(-90) scale(0.1 -0.1)">
       <defs>
        <path id="DejaVuSans-34" d="M 2419 4116 
L 825 1625 
L 2419 1625 
L 2419 4116 
z
M 2253 4666 
L 3047 4666 
L 3047 1625 
L 3713 1625 
L 3713 1100 
L 3047 1100 
L 3047 0 
L 2419 0 
L 2419 1100 
L 313 1100 
L 313 1709 
L 2253 4666 
z
" transform="scale(0.015625)"/>
       </defs>
       <use href="#DejaVuSans-4a"/>
       <use href="#DejaVuSans-61" transform="translate(29.492188 0)"/>
       <use href="#DejaVuSans-6e" transform="translate(90.771484 0)"/>
       <use href="#DejaVuSans-20" transform="translate(154.150391 0)"/>
       <use href="#DejaVuSans-32" transform="translate(185.9375 0)"/>
       <use href="#DejaVuSans-30" transform="translate(249.560547 0)"/>
       <use href="#DejaVuSans-32" transform="translate(313.183594 0)"/>
       <use href="#DejaVuSans-34" transform="translate(376.806641 0)"/>
      </g>
     </g></g>
<g transform="translate(-0.2880 -0.0720)"><g id="text_34">
      <g transform="translate(405.839375 318.09925) rotate(-90) scale(0.1 -0.1)">
       <use href="#DejaVuSans-46"/>
       <use href="#DejaVuSans-65" transform="translate(52.019531 0)"/>
       <use href="#DejaVuSans-62" transform="translate(113.542969 0)"/>
       <use href="#DejaVuSans-20" transform="translate(177.019531 0)"/>
       <use href="#DejaVuSans-32" transform="translate(208.806641 0)"/>
       <use href="#DejaVuSans-30" transform="translate(272.429688 0)"/>
       <use href="#DejaVuSans-32" transform="translate(336.052734 0)"/>
       <use href="#DejaVuSans-34" transform="translate(399.675781 0)"/>
      </g>
     </g></g>
<g transform="translate(-0.2880 -0.0720)"><g id="text_35">
      <g transform="translate(415.439375 319.263312) rotate(-90) scale(0.1 -0.1)">
       <use href="#DejaVuSans-4d"/>
       <use href="#DejaVuSans-61" transform="translate(86.279297 0)"/>
       <use href="#DejaVuSans-72" transform="translate(147.558594 0)"/>
       <use href="#DejaVuSans-20" transform="translate(188.671875 0)"/>
       <use href="#DejaVuSans-32" transform="translate(220.458984 0)"/>
       <use href="#DejaVuSans-30" transform="translate(284.082031 0)"/>
       <use href="#DejaVuSans-32" transform="translate(347.705078 0)"/>
       <use href="#DejaVuSans-34" transform="translate(411.328125 0)"/>
      </g>
     </g></g>
<g transform="translate(-0.2880 -0.0720)"><g id="text_36">
      <g transform="translate(425.279375 317.696125) rotate(-90) scale(0.1 -0.1)">
       <use href="#DejaVuSans-41"/>
       <use href="#DejaVuSans-70" transform="translate(68.408203 0)"/>
       <use href="#DejaVuSans-72" transform="translate(131.884766 0)"/>
       <use href="#DejaVuSans-20" transform="translate(172.998047 0)"/>
       <use href="#DejaVuSans-32" transform="translate(204.785156 0)"/>
       <use href="#DejaVuSans-30" transform="translate(268.408203 0)"/>
       <use href="#DejaVuSans-32" transform="translate(332.03125 0)"/>
       <use href="#DejaVuSans-34" transform="translate(395.654297 0)"/>
      </g>
     </g></g>
<g transform="translate(-0.1200 0.1680)"><g id="text_37">
     <g transform="translate(240.049219 332.669562) scale(0.1 -0.1)">
      <use href="#DejaVuSans-44"/>
      <use href="#DejaVuSans-61" transform="translate(77.001953 0)"/>
      <use href="#DejaVuSans-74" transform="translate(138.28125 0)"/>
      <use href="#DejaVuSans-65" transform="translate(177.490234 0)"/>
     </g>
    </g></g>
<g transform="translate(0.1200 -0.2880)"><g id="text_38">
      <g transform="translate(24.734375 268.567219) scale(0.1 -0.1)">
       <defs>
        <path id="DejaVuSans-2e" d="M 684 794 
L 1344 794 
L 1344 0 
L 684 0 
L 684 794 
z
" transform="scale(0.015625)"/>
       </defs>
       <use href="#DejaVuSans-30"/>
       <use href="#DejaVuSans-2e" transform="translate(63.623047 0)"/>
       <use href="#DejaVuSans-30" transform="translate(95.410156 0)"/>
       <use href="#DejaVuSans-30" transform="translate(159.033203 0)"/>
      </g>
     </g></g>
<g transform="translate(0.1200 -0.2880)"><g id="text_39">
      <g transform="translate(24.734375 232.207219) scale(0.1 -0.1)">
       <use href="#DejaVuSans-30"/>
       <use href="#DejaVuSans-2e" transform="translate(63.623047 0)"/>
       <use href="#DejaVuSans-30" transform="translate(95.410156 0)"/>
       <use href="#DejaVuSans-31" transform="translate(159.033203 0)"/>
      </g>
     </g></g>
<g transform="translate(0.1200 -0.2880)"><g id="text_40">
      <g transform="translate(24.734375 195.847219) scale(0.1 -0.1)">
       <use href="#DejaVuSans-30"/>
       <use href="#DejaVuSans-2e" transform="translate(63.623047 0)"/>
       <use href="#DejaVuSans-30" transform="translate(95.410156 0)"/>
       <use href="#DejaVuSans-32" transform="translate(159.033203 0)"/>
      </g>
     </g></g>
<g transform="translate(0.1200 -0.2880)"><g id="text_41">
      <g transform="translate(24.734375 159.487219) scale(0.1 -0.1)">
       <use href="#DejaVuSans-30"/>
       <use href="#DejaVuSans-2e" transform="translate(63.623047 0)"/>
       <use href="#DejaVuSans-30" transform="translate(95.410156 0)"/>
       <use href="#DejaVuSans-33" transform="translate(159.033203 0)"/>
      </g>
     </g></g>
<g transform="translate(0.1200 -0.2880)"><g id="text_42">
      <g transform="translate(24.734375 123.127219) scale(0.1 -0.1)">
       <use href="#DejaVuSans-30"/>
       <use href="#DejaVuSans-2e" transform="translate(63.623047 0)"/>
       <use href="#DejaVuSans-30" transform="translate(95.410156 0)"/>
       <use href="#DejaVuSans-34" transform="translate(159.033203 0)"/>
      </g>
     </g></g>
<g transform="translate(0.1200 -0.2880)"><g id="text_43">
      <g transform="translate(24.734375 86.767219) scale(0.1 -0.1)">
       <defs>
        <path id="DejaVuSans-35" d="M 691 4666 
L 3169 4666 
L 3169 4134 
L 1269 4134 
L 1269 2991 
Q 1406 3038 1543 3061 
Q 1681 3084 1819 3084 
Q 2600 3084 3056 2656 
Q 3513 2228 3513 1497 
Q 3513 744 3044 326 
Q 2575 -91 1722 -91 
Q 1428 -91 1123 -41 
Q 819 9 494 109 
L 494 744 
Q 775 591 1075 516 
Q 1375 441 1709 441 
Q 2250 441 2565 725 
Q 2881 1009 2881 1497 
Q 2881 1984 2565 2268 
Q 2250 2553 1709 2553 
Q 1456 2553 1204 2497 
Q 953 2441 691 2322 
L 691 4666 
z
" transform="scale(0.015625)"/>
       </defs>
       <use href="#DejaVuSans-30"/>
       <use href="#DejaVuSans-2e" transform="translate(63.623047 0)"/>
       <use href="#DejaVuSans-30" transform="translate(95.410156 0)"/>
       <use href="#DejaVuSans-35" transform="translate(159.033203 0)"/>
      </g>
     </g></g>
<g transform="translate(0.1200 -0.2880)"><g id="text_44">
      <g transform="translate(24.734375 50.407219) scale(0.1 -0.1)">
       <defs>
        <path id="DejaVuSans-36" d="M 2113 2584 
Q 1688 2584 1439 2293 
Q 1191 2003 1191 1497 
Q 1191 994 1439 701 
Q 1688 409 2113 409 
Q 2538 409 2786 701 
Q 3034 994 3034 1497 
Q 3034 2003 2786 2293 
Q 2538 2584 2113 2584 
z
M 3366 4563 
L 3366 3988 
Q 3128 4100 2886 4159 
Q 2644 4219 2406 4219 
Q 1781 4219 1451 3797 
Q 1122 3375 1075 2522 
Q 1259 2794 1537 2939 
Q 1816 3084 2150 3084 
Q 2853 3084 3261 2657 
Q 3669 2231 3669 1497 
Q 3669 778 3244 343 
Q 2819 -91 2113 -91 
Q 1303 -91 875 529 
Q 447 1150 447 2328 
Q 447 3434 972 4092 
Q 1497 4750 2381 4750 
Q 2619 4750 2861 4703 
Q 3103 4656 3366 4563 
z
" transform="scale(0.015625)"/>
       </defs>
       <use href="#DejaVuSans-30"/>
       <use href="#DejaVuSans-2e" transform="translate(63.623047 0)"/>
       <use href="#DejaVuSans-30" transform="translate(95.410156 0)"/>
       <use href="#DejaVuSans-36" transform="translate(159.033203 0)"/>
      </g>
     </g></g>
<g transform="translate(-0.6000 0.0000)"><g id="text_45">
     <g transform="translate(18.654687 210.739313) rotate(-90) scale(0.1 -0.1)">
      <defs>
       <path id="DejaVuSans-73" d="M 2834 3397 
L 2834 2853 
Q 2591 2978 2328 3040 
Q 2066 3103 1784 3103 
Q 1356 3103 1142 2972 
Q 928 2841 928 2578 
Q 928 2378 1081 2264 
Q 1234 2150 1697 2047 
L 1894 2003 
Q 2506 1872 2764 1633 
Q 3022 1394 3022 966 
Q 3022 478 2636 193 
Q 2250 -91 1575 -91 
Q 1294 -91 989 -36 
Q 684 19 347 128 
L 347 722 
Q 666 556 975 473 
Q 1284 391 1588 391 
Q 1994 391 2212 530 
Q 2431 669 2431 922 
Q 2431 1156 2273 1281 
Q 2116 1406 1581 1522 
L 1381 1569 
Q 847 1681 609 1914 
Q 372 2147 372 2553 
Q 372 3047 722 3315 
Q 1072 3584 1716 3584 
Q 2034 3584 2315 3537 
Q 2597 3491 2834 3397 
z
" transform="scale(0.015625)"/>
       <path id="DejaVuSans-69" d="M 603 3500 
L 1178 3500 
L 1178 0 
L 603 0 
L 603 3500 
z
M 603 4863 
L 1178 4863 
L 1178 4134 
L 603 4134 
L 603 4863 
z
" transform="scale(0.015625)"/>
       <path id="DejaVuSans-4c" d="M 628 4666 
L 1259 4666 
L 1259 531 
L 3531 531 
L 3531 0 
L 628 0 
L 628 4666 
z
" transform="scale(0.015625)"/>
       <path id="DejaVuSans-52" d="M 2841 2188 
Q 3044 2119 3236 1894 
Q 3428 1669 3622 1275 
L 4263 0 
L 3584 0 
L 2988 1197 
Q 2756 1666 2539 1819 
Q 2322 1972 1947 1972 
L 1259 1972 
L 1259 0 
L 628 0 
L 628 4666 
L 2053 4666 
Q 2853 4666 3247 4331 
Q 3641 3997 3641 3322 
Q 3641 2881 3436 2590 
Q 3231 2300 2841 2188 
z
M 1259 4147 
L 1259 2491 
L 2053 2491 
Q 2509 2491 2742 2702 
Q 2975 2913 2975 3322 
Q 2975 3731 2742 3939 
Q 2509 4147 2053 4147 
L 1259 4147 
z
" transform="scale(0.015625)"/>
      </defs>
      <use href="#DejaVuSans-41"/>
      <use href="#DejaVuSans-62" transform="translate(68.408203 0)"/>
      <use href="#DejaVuSans-73" transform="translate(131.884766 0)"/>
      <use href="#DejaVuSans-6f" transform="translate(183.984375 0)"/>
      <use href="#DejaVuSans-6c" transform="translate(245.166016 0)"/>
      <use href="#DejaVuSans-75" transform="translate(272.949219 0)"/>
      <use href="#DejaVuSans-74" transform="translate(336.328125 0)"/>
      <use href="#DejaVuSans-65" transform="translate(375.537109 0)"/>
      <use href="#DejaVuSans-20" transform="translate(437.060547 0)"/>
      <use href="#DejaVuSans-44" transform="translate(468.847656 0)"/>
      <use href="#DejaVuSans-61" transform="translate(545.849609 0)"/>
      <use href="#DejaVuSans-69" transform="translate(607.128906 0)"/>
      <use href="#DejaVuSans-6c" transform="translate(634.912109 0)"/>
      <use href="#DejaVuSans-79" transform="translate(662.695312 0)"/>
      <use href="#DejaVuSans-20" transform="translate(721.875 0)"/>
      <use href="#DejaVuSans-4c" transform="translate(753.662109 0)"/>
      <use href="#DejaVuSans-6f" transform="translate(807.625 0)"/>
      <use href="#DejaVuSans-67" transform="translate(868.806641 0)"/>
      <use href="#DejaVuSans-20" transform="translate(932.283203 0)"/>
      <use href="#DejaVuSans-52" transform="translate(964.070312 0)"/>
      <use href="#DejaVuSans-65" transform="translate(1029.052734 0)"/>
      <use href="#DejaVuSans-74" transform="translate(1090.576172 0)"/>
      <use href="#DejaVuSans-75" transform="translate(1129.785156 0)"/>
      <use href="#DejaVuSans-72" transform="translate(1193.164062 0)"/>
      <use href="#DejaVuSans-6e" transform="translate(1232.527344 0)"/>
     </g>
    </g></g>
<g transform="translate(0.0000 -0.3120)"><g id="text_46">
    <g transform="translate(205.090313 21.12) scale(0.12 -0.12)">
     <defs>
      <path id="DejaVuSans-56" d="M 1831 0 
L 50 4666 
L 709 4666 
L 2188 738 
L 3669 4666 
L 4325 4666 
L 2547 0 
L 1831 0 
z
" transform="scale(0.015625)"/>
      <path id="DejaVuSans-66" d="M 2375 4863 
L 2375 4384 
L 1825 4384 
Q 1516 4384 1395 4259 
Q 1275 4134 1275 3809 
L 1275 3500 
L 2222 3500 
L 2222 3053 
L 1275 3053 
L 1275 0 
L 697 0 
L 697 3053 
L 147 3053 
L 147 3500 
L 697 3500 
L 697 3744 
Q 697 4328 969 4595 
Q 1241 4863 1831 4863 
L 2375 4863 
z
" transform="scale(0.015625)"/>
      <path id="DejaVuSans-43" d="M 4122 4306 
L 4122 3641 
Q 3803 3938 3442 4084 
Q 3081 4231 2675 4231 
Q 1875 4231 1450 3742 
Q 1025 3253 1025 2328 
Q 1025 1406 1450 917 
Q 1875 428 2675 428 
Q 3081 428 3442 575 
Q 3803 722 4122 1019 
L 4122 359 
Q 3791 134 3420 21 
Q 3050 -91 2638 -91 
Q 1578 -91 968 557 
Q 359 1206 359 2328 
Q 359 3453 968 4101 
Q 1578 4750 2638 4750 
Q 3056 4750 3426 4639 
Q 3797 4528 4122 4306 
z
" transform="scale(0.015625)"/>
     </defs>
     <use href="#DejaVuSans-56"/>
     <use href="#DejaVuSans-6f" transform="translate(60.658203 0)"/>
     <use href="#DejaVuSans-6c" transform="translate(121.839844 0)"/>
     <use href="#DejaVuSans-61" transform="translate(149.623047 0)"/>
     <use href="#DejaVuSans-74" transform="translate(210.902344 0)"/>
     <use href="#DejaVuSans-69" transform="translate(250.111328 0)"/>
     <use href="#DejaVuSans-6c" transform="translate(277.894531 0)"/>
     <use href="#DejaVuSans-69" transform="translate(305.677734 0)"/>
     <use href="#DejaVuSans-74" transform="translate(333.460938 0)"/>
     <use href="#DejaVuSans-79" transform="translate(372.669922 0)"/>
     <use href="#DejaVuSans-20" transform="translate(431.849609 0)"/>
     <use href="#DejaVuSans-6f" transform="translate(463.636719 0)"/>
     <use href="#DejaVuSans-66" transform="translate(524.818359 0)"/>
     <use href="#DejaVuSans-20" transform="translate(560.023438 0)"/>
     <use href="#DejaVuSans-52" transform="translate(591.810547 0)"/>
     <use href="#DejaVuSans-43" transform="translate(656.292969 0)"/>
     <use href="#DejaVuSans-4c" transform="translate(726.117188 0)"/>
    </g>
   </g></g>
</g>
</svg></body></html>
